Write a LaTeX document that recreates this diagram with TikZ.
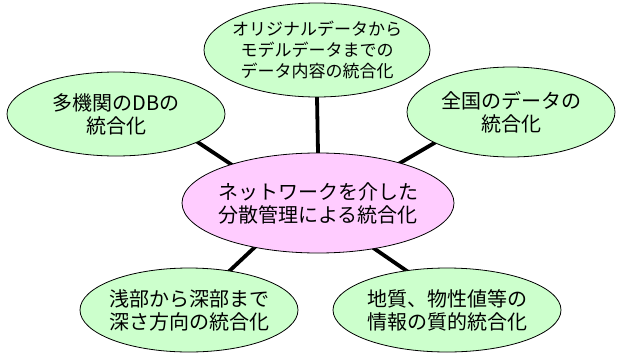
\documentclass[tikz,border=0pt]{standalone}
\usepackage{fontspec}
\newfontfamily\jp{Noto Sans CJK JP}
\usetikzlibrary{shapes.geometric,backgrounds}
\definecolor{leaf}{HTML}{CCFFCC}
\definecolor{petal}{HTML}{FFCCFF}
\tikzset{
  bubble/.style={ellipse,draw=black,line width=0.8pt,inner sep=0pt},
  outer/.style={bubble,fill=leaf},
  hub/.style={bubble,fill=petal},
  txt/.style={align=center,inner sep=0pt,font={\jp\fontsize{20}{23}\selectfont}},
  smalltxt/.style={align=center,inner sep=0pt,font={\jp\fontsize{17}{21}\selectfont}},
  link/.style={line width=3.8pt,black,shorten <=-4pt,shorten >=-4pt}
}
\begin{document}
\begin{tikzpicture}[x=1pt,y=-1pt]
\useasboundingbox (0,0) rectangle (617,356);
\node[hub,minimum width=272pt,minimum height=100pt] (C) at (318,203) {};
\node[outer,minimum width=226pt,minimum height=94pt] (T) at (317,50) {};
\node[outer,minimum width=218pt,minimum height=84pt] (L) at (116,114) {};
\node[outer,minimum width=208pt,minimum height=90pt] (R) at (511,112) {};
\node[outer,minimum width=218pt,minimum height=84pt] (BL) at (189,310) {};
\node[outer,minimum width=228pt,minimum height=84pt] (BR) at (447,310) {};
\node[txt] (Ct) at (C) {ネットワークを介した\\分散管理による統合化};
\node[smalltxt] (Tt) at (T) {オリジナルデータから\\モデルデータまでの\\データ内容の統合化};
\node[txt] (Lt) at (L) {多機関のDBの\\統合化};
\node[txt] (Rt) at (R) {全国のデータの\\統合化};
\node[txt] (BLt) at (BL) {浅部から深部まで\\深さ方向の統合化};
\node[txt] (BRt) at (BR) {地質、物性値等の\\情報の質的統合化};
\begin{pgfonlayer}{background}
\draw[link] (C.90) -- (T.-90);
\draw[link] (C.156) -- (L.-19);
\draw[link] (C.26) -- (R.202);
\draw[link] (C.215) -- (BL.44);
\draw[link] (C.-39) -- (BR.136);
\end{pgfonlayer}
\end{tikzpicture}
\end{document}
